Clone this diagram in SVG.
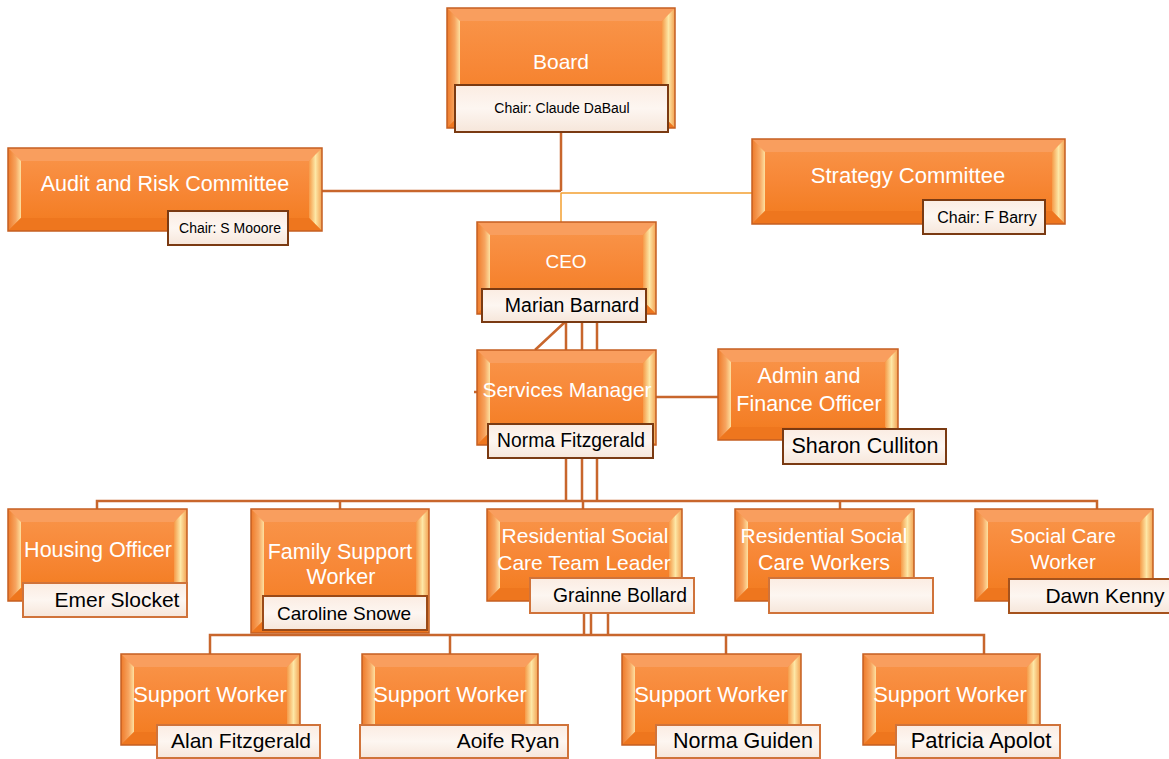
<svg xmlns="http://www.w3.org/2000/svg" width="1169" height="759" viewBox="0 0 1169 759">
<defs>
<linearGradient id="gFace" x1="0" y1="0" x2="0" y2="1"><stop offset="0" stop-color="#f9964c"/><stop offset="0.5" stop-color="#f78736"/><stop offset="1" stop-color="#f27a1c"/></linearGradient>
<linearGradient id="gL" x1="0" y1="0" x2="1" y2="0"><stop offset="0" stop-color="#ee7a2a"/><stop offset="0.6" stop-color="#f7a560"/><stop offset="1" stop-color="#fde0a0"/></linearGradient>
<linearGradient id="gR" x1="0" y1="0" x2="1" y2="0"><stop offset="0" stop-color="#f59a48"/><stop offset="0.5" stop-color="#fde7a6"/><stop offset="1" stop-color="#f3a050"/></linearGradient>
<linearGradient id="gLbl" x1="0" y1="0" x2="0" y2="1"><stop offset="0" stop-color="#fbece2"/><stop offset="0.5" stop-color="#fdf6f1"/><stop offset="1" stop-color="#f6e6da"/></linearGradient>
</defs>
<style>
.face{fill:url(#gFace)}
.edge{fill:none;stroke:#c55f22;stroke-width:1.5}
.bt{fill:#f99e5e}
.bl{fill:url(#gL)}
.br{fill:url(#gR)}
.bb{fill:#ee761e}
.lbl{fill:url(#gLbl);stroke:#7a3a12;stroke-width:2}
.lbl2{fill:url(#gLbl);stroke:#d0733a;stroke-width:2}
.h{font-family:"Liberation Sans",Arial,sans-serif;font-size:21px;fill:#ffffff;text-anchor:middle}
.n{font-family:"Liberation Sans",Arial,sans-serif;font-size:21px;fill:#000000;text-anchor:middle}
.c{font-family:"Liberation Sans",Arial,sans-serif;font-size:14px;fill:#000000;text-anchor:middle}
.ln{fill:none;stroke:#c8662c;stroke-width:2.5}
.ly{fill:none;stroke:#f4a030;stroke-width:1.5}
</style>
<g id="connectors">
<path class="ln" d="M561 132V191M322 191H561"/>
<path class="ly" d="M561 193H752M561 193V222"/>
<path class="ln" d="M566 322V350M582 322V350M597 322V350M565 322L535 350"/>
<path class="ln" d="M656 397H718M474 392H477"/>
<path class="ln" d="M566 458V501M582 458V501M597 458V501"/>
<path class="ln" d="M97 509V501H1097V509M340 501V509M583 501V509M840 501V509"/>
<path class="ln" d="M584 613V635M591 613V635M608 613V635"/>
<path class="ln" d="M210 654V635H984V654M450 635V654M726 635V654"/>
</g>
<g id="board">
<rect class="face" x="447" y="8" width="228" height="120"/>
<polygon class="bt" points="447,8 675,8 662,21 460,21"/>
<polygon class="bl" points="447,8 460,21 460,115 447,128"/>
<polygon class="br" points="675,8 675,128 662,115 662,21"/>
<polygon class="bb" points="447,128 460,115 662,115 675,128"/>
<rect class="edge" x="447" y="8" width="228" height="120"/>
<text class="h" x="561" y="69">Board</text>
<rect class="lbl" x="455" y="85" width="213" height="47"/>
<text class="c" x="562" y="113">Chair: Claude DaBaul</text>
</g>
<g id="audit">
<rect class="face" x="8" y="148" width="314" height="83"/>
<polygon class="bt" points="8,148 322,148 309,161 21,161"/>
<polygon class="bl" points="8,148 21,161 21,218 8,231"/>
<polygon class="br" points="322,148 322,231 309,218 309,161"/>
<polygon class="bb" points="8,231 21,218 309,218 322,231"/>
<rect class="edge" x="8" y="148" width="314" height="83"/>
<text class="h" x="165" y="191" style="font-size:21.5px">Audit and Risk Committee</text>
<rect class="lbl" x="168" y="211" width="120" height="34"/>
<text class="c" x="230" y="233">Chair: S Mooore</text>
</g>
<g id="strategy">
<rect class="face" x="752" y="139" width="313" height="85"/>
<polygon class="bt" points="752,139 1065,139 1052,152 765,152"/>
<polygon class="bl" points="752,139 765,152 765,211 752,224"/>
<polygon class="br" points="1065,139 1065,224 1052,211 1052,152"/>
<polygon class="bb" points="752,224 765,211 1052,211 1065,224"/>
<rect class="edge" x="752" y="139" width="313" height="85"/>
<text class="h" x="908" y="183" style="font-size:22px">Strategy Committee</text>
<rect class="lbl" x="923" y="200" width="122" height="34"/>
<text class="c" x="987" y="223" style="font-size:16px">Chair: F Barry</text>
</g>
<g id="ceo">
<rect class="face" x="477" y="222" width="179" height="92"/>
<polygon class="bt" points="477,222 656,222 643,235 490,235"/>
<polygon class="bl" points="477,222 490,235 490,301 477,314"/>
<polygon class="br" points="656,222 656,314 643,301 643,235"/>
<polygon class="bb" points="477,314 490,301 643,301 656,314"/>
<rect class="edge" x="477" y="222" width="179" height="92"/>
<text class="h" x="566" y="268" style="font-size:19px">CEO</text>
<rect class="lbl" x="482" y="289" width="164" height="33"/>
<text class="n" x="572" y="312" style="font-size:19.5px">Marian Barnard</text>
</g>
<g id="services">
<rect class="face" x="477" y="350" width="179" height="95"/>
<polygon class="bt" points="477,350 656,350 643,363 490,363"/>
<polygon class="bl" points="477,350 490,363 490,432 477,445"/>
<polygon class="br" points="656,350 656,445 643,432 643,363"/>
<polygon class="bb" points="477,445 490,432 643,432 656,445"/>
<rect class="edge" x="477" y="350" width="179" height="95"/>
<text class="h" x="567" y="397">Services Manager</text>
<rect class="lbl" x="488" y="424" width="165" height="34"/>
<text class="n" x="571" y="447" style="font-size:19.3px">Norma Fitzgerald</text>
</g>
<g id="admin">
<rect class="face" x="718" y="349" width="180" height="91"/>
<polygon class="bt" points="718,349 898,349 885,362 731,362"/>
<polygon class="bl" points="718,349 731,362 731,427 718,440"/>
<polygon class="br" points="898,349 898,440 885,427 885,362"/>
<polygon class="bb" points="718,440 731,427 885,427 898,440"/>
<rect class="edge" x="718" y="349" width="180" height="91"/>
<text class="h" x="809" y="383" style="font-size:21.5px">Admin and</text>
<text class="h" x="809" y="411" style="font-size:21.5px">Finance Officer</text>
<rect class="lbl" x="783" y="429" width="163" height="35"/>
<text class="n" x="865" y="453" style="font-size:21.5px">Sharon Culliton</text>
</g>
<g id="housing">
<rect class="face" x="8" y="509" width="179" height="92"/>
<polygon class="bt" points="8,509 187,509 174,522 21,522"/>
<polygon class="bl" points="8,509 21,522 21,588 8,601"/>
<polygon class="br" points="187,509 187,601 174,588 174,522"/>
<polygon class="bb" points="8,601 21,588 174,588 187,601"/>
<rect class="edge" x="8" y="509" width="179" height="92"/>
<text class="h" x="98" y="557" style="font-size:21.5px">Housing Officer</text>
<rect class="lbl2" x="23" y="583" width="164" height="34"/>
<text class="n" x="117" y="607">Emer Slocket</text>
</g>
<g id="family">
<rect class="face" x="251" y="509" width="178" height="124"/>
<polygon class="bt" points="251,509 429,509 416,522 264,522"/>
<polygon class="bl" points="251,509 264,522 264,620 251,633"/>
<polygon class="br" points="429,509 429,633 416,620 416,522"/>
<polygon class="bb" points="251,633 264,620 416,620 429,633"/>
<rect class="edge" x="251" y="509" width="178" height="124"/>
<text class="h" x="340" y="559" style="font-size:21.5px">Family Support</text>
<text class="h" x="341" y="584" style="font-size:21.5px">Worker</text>
<rect class="lbl" x="263" y="596" width="164" height="34" style="stroke:#9a4a18"/>
<text class="n" x="344" y="620" style="font-size:19px">Caroline Snowe</text>
</g>
<g id="teamleader">
<rect class="face" x="487" y="509" width="195" height="92"/>
<polygon class="bt" points="487,509 682,509 669,522 500,522"/>
<polygon class="bl" points="487,509 500,522 500,588 487,601"/>
<polygon class="br" points="682,509 682,601 669,588 669,522"/>
<polygon class="bb" points="487,601 500,588 669,588 682,601"/>
<rect class="edge" x="487" y="509" width="195" height="92"/>
<text class="h" x="585" y="543">Residential Social</text>
<text class="h" x="584" y="570">Care Team Leader</text>
<rect class="lbl2" x="530" y="578" width="164" height="35"/>
<text class="n" x="620" y="602" style="font-size:19.3px">Grainne Bollard</text>
</g>
<g id="rscworkers">
<rect class="face" x="735" y="509" width="179" height="92"/>
<polygon class="bt" points="735,509 914,509 901,522 748,522"/>
<polygon class="bl" points="735,509 748,522 748,588 735,601"/>
<polygon class="br" points="914,509 914,601 901,588 901,522"/>
<polygon class="bb" points="735,601 748,588 901,588 914,601"/>
<rect class="edge" x="735" y="509" width="179" height="92"/>
<text class="h" x="824" y="543">Residential Social</text>
<text class="h" x="824" y="570" style="font-size:21.5px">Care Workers</text>
<rect class="lbl2" x="769" y="578" width="164" height="35"/>
</g>
<g id="socialcare">
<rect class="face" x="975" y="509" width="178" height="92"/>
<polygon class="bt" points="975,509 1153,509 1140,522 988,522"/>
<polygon class="bl" points="975,509 988,522 988,588 975,601"/>
<polygon class="br" points="1153,509 1153,601 1140,588 1140,522"/>
<polygon class="bb" points="975,601 988,588 1140,588 1153,601"/>
<rect class="edge" x="975" y="509" width="178" height="92"/>
<text class="h" x="1063" y="543" style="font-size:20.5px">Social Care</text>
<text class="h" x="1063" y="569" style="font-size:20.5px">Worker</text>
<rect class="lbl" x="1009" y="579" width="162" height="34" style="stroke:#a5521c"/>
<text class="n" x="1105" y="603">Dawn Kenny</text>
</g>
<g id="sw1">
<rect class="face" x="121" y="654" width="179" height="91"/>
<polygon class="bt" points="121,654 300,654 287,667 134,667"/>
<polygon class="bl" points="121,654 134,667 134,732 121,745"/>
<polygon class="br" points="300,654 300,745 287,732 287,667"/>
<polygon class="bb" points="121,745 134,732 287,732 300,745"/>
<rect class="edge" x="121" y="654" width="179" height="91"/>
<text class="h" x="210" y="702" style="font-size:22px">Support Worker</text>
<rect class="lbl2" x="157" y="725" width="163" height="33"/>
<text class="n" x="241" y="748">Alan Fitzgerald</text>
</g>
<g id="sw2">
<rect class="face" x="362" y="654" width="176" height="91"/>
<polygon class="bt" points="362,654 538,654 525,667 375,667"/>
<polygon class="bl" points="362,654 375,667 375,732 362,745"/>
<polygon class="br" points="538,654 538,745 525,732 525,667"/>
<polygon class="bb" points="362,745 375,732 525,732 538,745"/>
<rect class="edge" x="362" y="654" width="176" height="91"/>
<text class="h" x="450" y="702" style="font-size:22px">Support Worker</text>
<rect class="lbl2" x="360" y="725" width="208" height="33"/>
<text class="n" x="508" y="748">Aoife Ryan</text>
</g>
<g id="sw3">
<rect class="face" x="622" y="654" width="179" height="91"/>
<polygon class="bt" points="622,654 801,654 788,667 635,667"/>
<polygon class="bl" points="622,654 635,667 635,732 622,745"/>
<polygon class="br" points="801,654 801,745 788,732 788,667"/>
<polygon class="bb" points="622,745 635,732 788,732 801,745"/>
<rect class="edge" x="622" y="654" width="179" height="91"/>
<text class="h" x="711" y="702" style="font-size:22px">Support Worker</text>
<rect class="lbl2" x="656" y="725" width="164" height="33"/>
<text class="n" x="743" y="748" style="font-size:21.5px">Norma Guiden</text>
</g>
<g id="sw4">
<rect class="face" x="863" y="654" width="177" height="91"/>
<polygon class="bt" points="863,654 1040,654 1027,667 876,667"/>
<polygon class="bl" points="863,654 876,667 876,732 863,745"/>
<polygon class="br" points="1040,654 1040,745 1027,732 1027,667"/>
<polygon class="bb" points="863,745 876,732 1027,732 1040,745"/>
<rect class="edge" x="863" y="654" width="177" height="91"/>
<text class="h" x="950" y="702" style="font-size:22px">Support Worker</text>
<rect class="lbl2" x="896" y="725" width="164" height="33"/>
<text class="n" x="981" y="748" style="font-size:22px">Patricia Apolot</text>
</g>
</svg>
